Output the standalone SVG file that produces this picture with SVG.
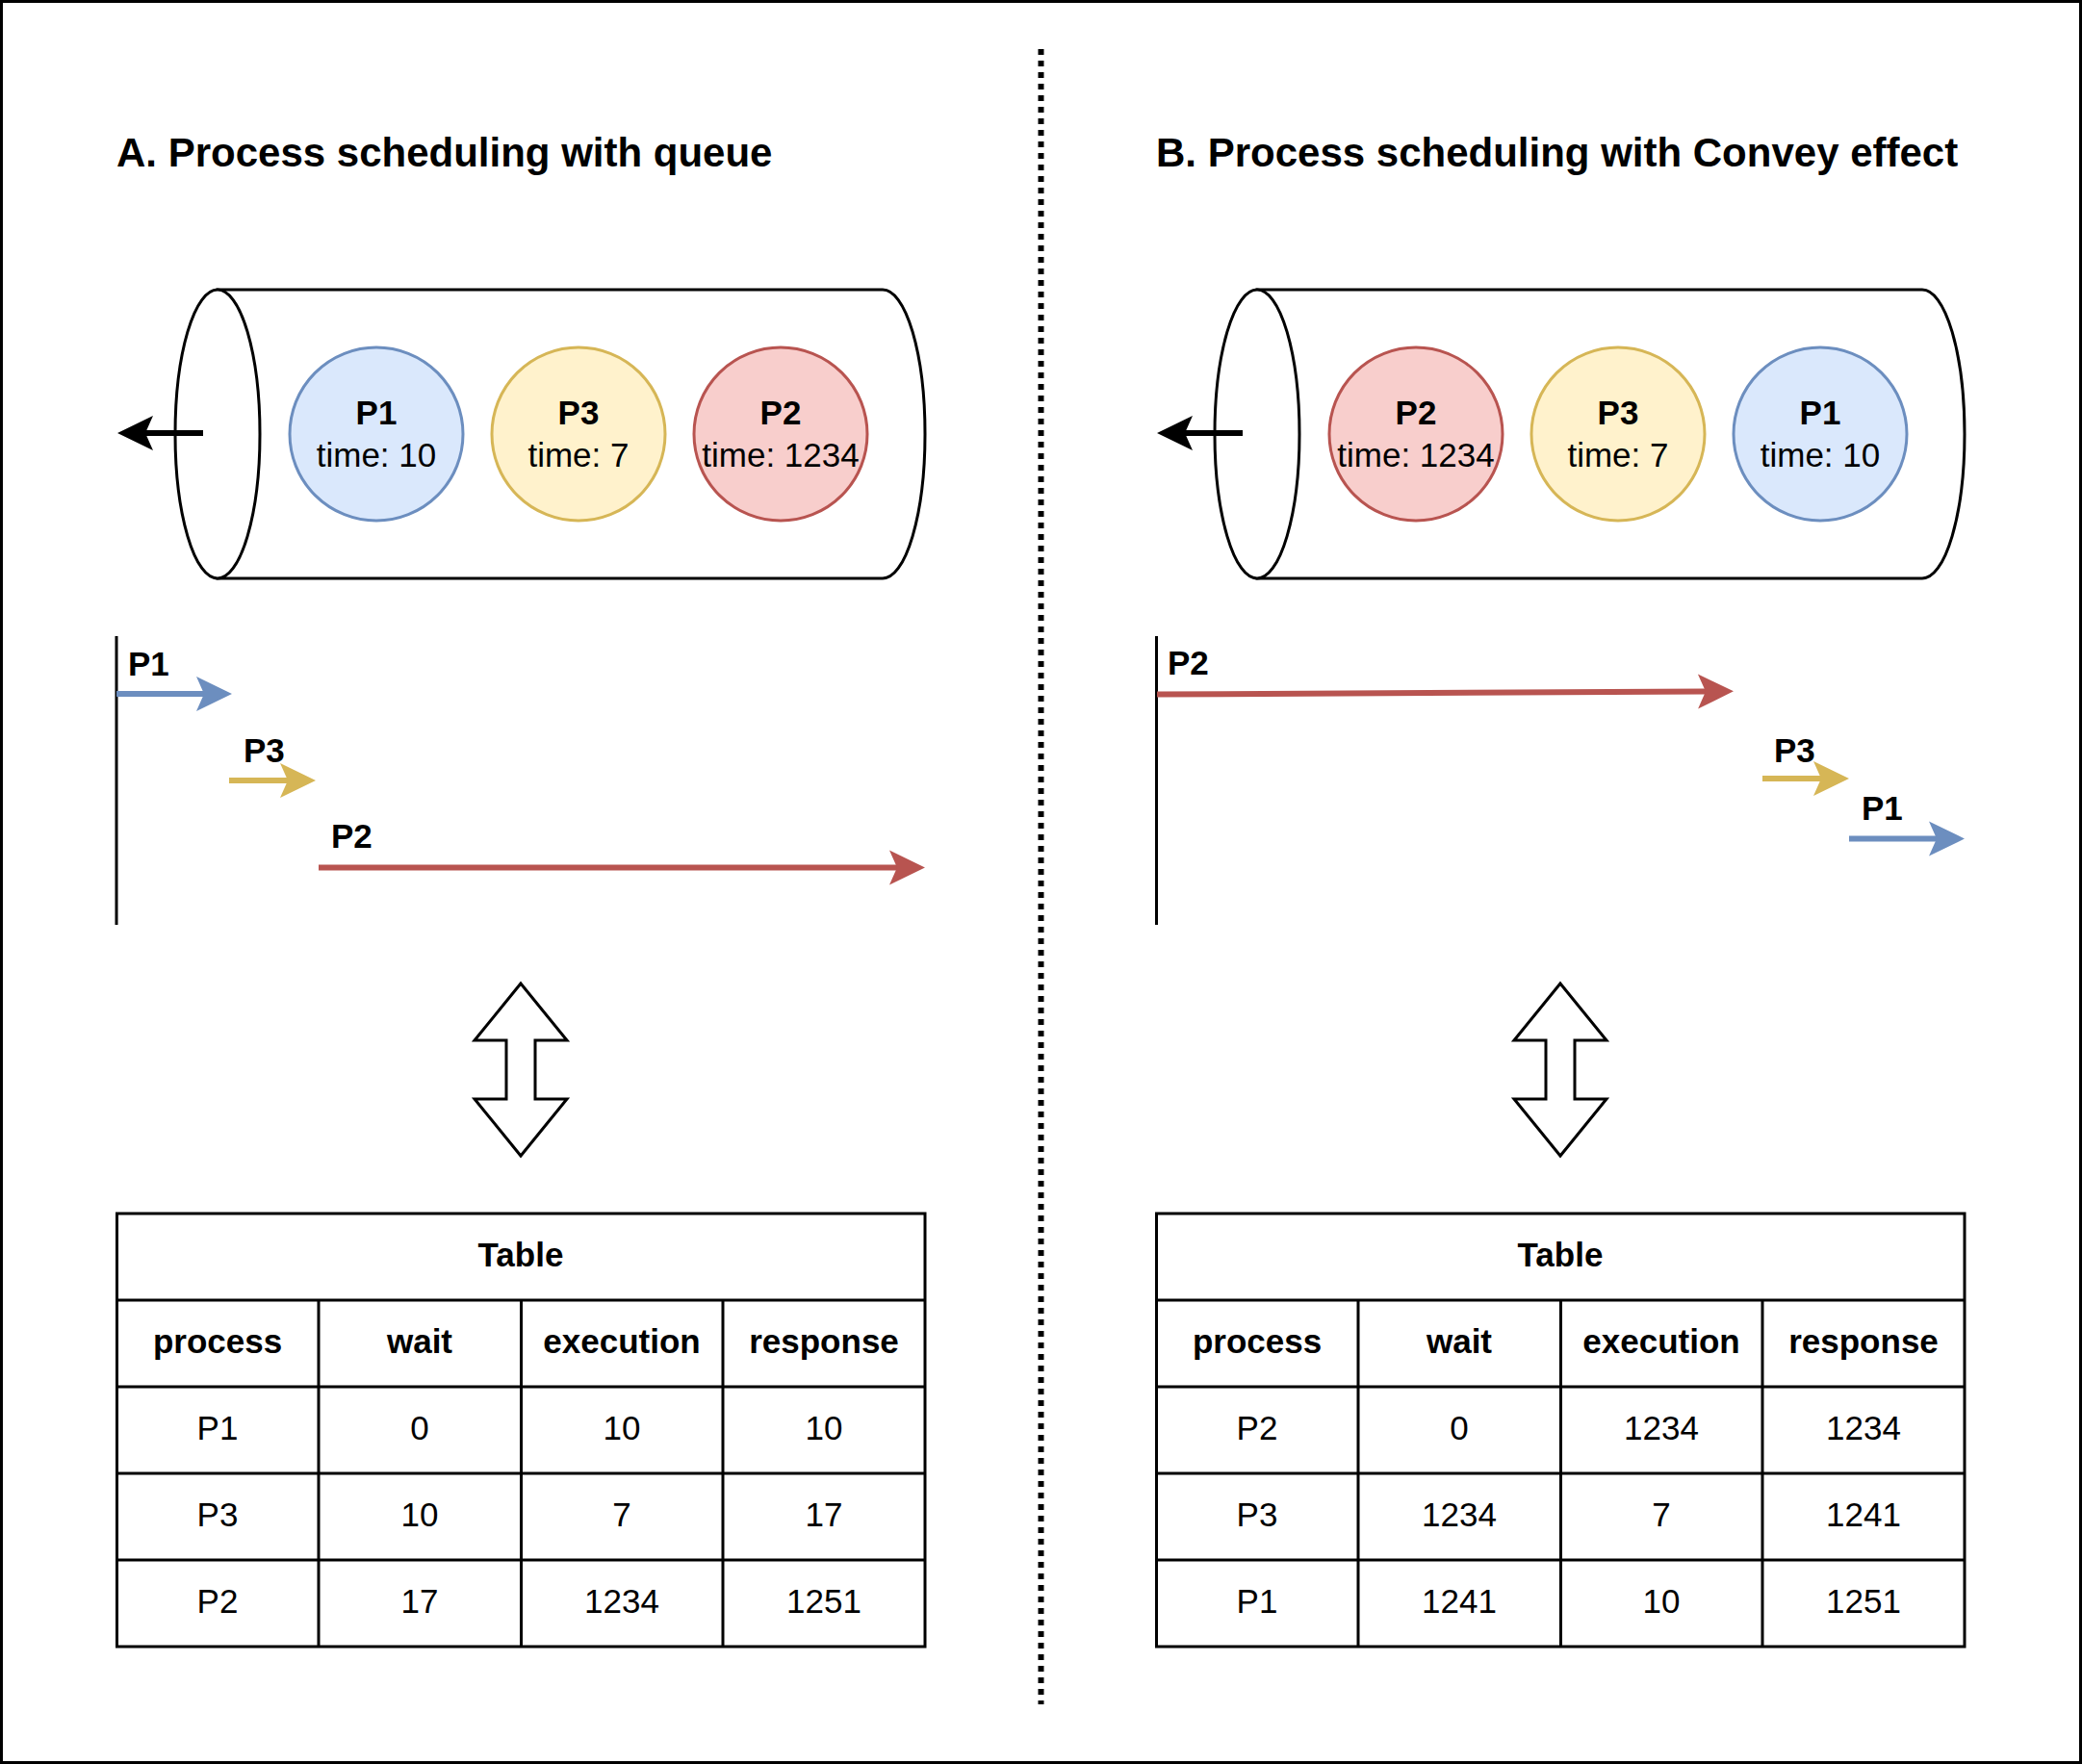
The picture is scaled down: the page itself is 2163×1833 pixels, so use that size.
<svg xmlns="http://www.w3.org/2000/svg" width="2163" height="1833" viewBox="0 0 2163 1833">
<style>
text{font-family:"Liberation Sans",Arial,Helvetica,sans-serif;fill:#000}
.title{font-size:42px;font-weight:bold}
.b{font-size:35px;font-weight:bold}
.r{font-size:35px}
.c{text-anchor:middle}
.cyl{fill:#fff;stroke:#000;stroke-width:3}
.blue{fill:#dae8fc;stroke:#6c8ebf;stroke-width:3}
.yel{fill:#fff2cc;stroke:#d6b656;stroke-width:3}
.red{fill:#f8cecc;stroke:#b85450;stroke-width:3}
.axis{stroke:#000;stroke-width:3;fill:none}
.tbl{fill:none;stroke:#000;stroke-width:3}
.dbl{fill:#fff;stroke:#000;stroke-width:3;stroke-linejoin:miter}
.ln{fill:none;stroke-width:6}
</style>
<defs>
<marker id="hk" viewBox="-10 -20 42 40" refX="0" refY="0" markerWidth="42" markerHeight="40" markerUnits="userSpaceOnUse" orient="auto"><path d="M-8,-18 L29,0 L-8,18 L0,0 Z" fill="#000"/></marker>
<marker id="hb" viewBox="-10 -20 42 40" refX="0" refY="0" markerWidth="42" markerHeight="40" markerUnits="userSpaceOnUse" orient="auto"><path d="M-8,-18 L29,0 L-8,18 L0,0 Z" fill="#6c8ebf"/></marker>
<marker id="hy" viewBox="-10 -20 42 40" refX="0" refY="0" markerWidth="42" markerHeight="40" markerUnits="userSpaceOnUse" orient="auto"><path d="M-8,-18 L29,0 L-8,18 L0,0 Z" fill="#d6b656"/></marker>
<marker id="hr" viewBox="-10 -20 42 40" refX="0" refY="0" markerWidth="42" markerHeight="40" markerUnits="userSpaceOnUse" orient="auto"><path d="M-8,-18 L29,0 L-8,18 L0,0 Z" fill="#b85450"/></marker>
</defs>
<rect x="0" y="0" width="2163" height="1833" fill="#fff"/>
<rect id="frame" x="1.5" y="1.5" width="2160" height="1830" fill="none" stroke="#000" stroke-width="3"/>
<line id="divider" x1="1081.5" y1="51" x2="1081.5" y2="1771" stroke="#000" stroke-width="6" stroke-dasharray="6 6"/>

<text id="titleA" class="title" x="121" y="173">A. Process scheduling with queue</text>
<text id="titleB" class="title" x="1201" y="173">B. Process scheduling with Convey effect</text>

<!-- Section A queue -->
<g id="queueA">
<path class="cyl" d="M226,301 L917,301 A44,150 0 0 1 917,601 L226,601 Z"/>
<ellipse class="cyl" cx="226" cy="451" rx="44" ry="150"/>
</g>
<g id="A-P1"><circle class="blue" cx="391" cy="451" r="90"/><text class="b c" x="391" y="441">P1</text><text class="r c" x="391" y="485">time: 10</text></g>
<g id="A-P3"><circle class="yel" cx="601" cy="451" r="90"/><text class="b c" x="601" y="441">P3</text><text class="r c" x="601" y="485">time: 7</text></g>
<g id="A-P2"><circle class="red" cx="811" cy="451" r="90"/><text class="b c" x="811" y="441">P2</text><text class="r c" x="811" y="485">time: 1234</text></g>

<!-- Section B queue -->
<g id="queueB">
<path class="cyl" d="M1306,301 L1997,301 A44,150 0 0 1 1997,601 L1306,601 Z"/>
<ellipse class="cyl" cx="1306" cy="451" rx="44" ry="150"/>
</g>
<g id="B-P2"><circle class="red" cx="1471" cy="451" r="90"/><text class="b c" x="1471" y="441">P2</text><text class="r c" x="1471" y="485">time: 1234</text></g>
<g id="B-P3"><circle class="yel" cx="1681" cy="451" r="90"/><text class="b c" x="1681" y="441">P3</text><text class="r c" x="1681" y="485">time: 7</text></g>
<g id="B-P1"><circle class="blue" cx="1891" cy="451" r="90"/><text class="b c" x="1891" y="441">P1</text><text class="r c" x="1891" y="485">time: 10</text></g>

<!-- timelines -->
<g id="timelineA">
<line class="axis" x1="121" y1="661" x2="121" y2="961"/>
<text class="b" x="133" y="702">P1</text>
<text class="b" x="253" y="792">P3</text>
<text class="b" x="344" y="881">P2</text>
</g>
<g id="timelineB">
<line class="axis" x1="1201.5" y1="661" x2="1201.5" y2="961"/>
<text class="b" x="1213" y="701">P2</text>
<text class="b" x="1843" y="792">P3</text>
<text class="b" x="1934" y="852">P1</text>
</g>

<g id="connectors">
<line class="ln" stroke="#000" x1="211" y1="450" x2="151" y2="450" marker-end="url(#hk)"/>
<line class="ln" stroke="#000" x1="1291" y1="450" x2="1231" y2="450" marker-end="url(#hk)"/>
<line class="ln" stroke="#6c8ebf" x1="121" y1="721" x2="212" y2="721" marker-end="url(#hb)"/>
<line class="ln" stroke="#d6b656" x1="238" y1="811" x2="299" y2="811" marker-end="url(#hy)"/>
<line class="ln" stroke="#b85450" x1="331" y1="901.5" x2="932" y2="901.5" marker-end="url(#hr)"/>
<line class="ln" stroke="#b85450" x1="1202" y1="721.5" x2="1772" y2="718.5" marker-end="url(#hr)"/>
<line class="ln" stroke="#d6b656" x1="1831" y1="809" x2="1892" y2="809" marker-end="url(#hy)"/>
<line class="ln" stroke="#6c8ebf" x1="1921" y1="871.5" x2="2012" y2="871.5" marker-end="url(#hb)"/>
</g>

<g id="dblA"><path class="dbl" d="M541,1022 L589,1081 L556,1081 L556,1142 L589,1142 L541,1201 L493,1142 L526,1142 L526,1081 L493,1081 Z"/></g>
<g id="dblB"><path class="dbl" d="M1621,1022 L1669,1081 L1636,1081 L1636,1142 L1669,1142 L1621,1201 L1573,1142 L1606,1142 L1606,1081 L1573,1081 Z"/></g>

<!-- Table A -->
<g id="tableA">
<rect class="tbl" x="121.5" y="1261" width="839.5" height="450"/>
<path class="tbl" d="M121.5,1351 H961 M121.5,1441 H961 M121.5,1531 H961 M121.5,1621 H961 M331,1351 V1711 M541.5,1351 V1711 M751,1351 V1711"/>
<text class="b c" x="541" y="1316">Table</text>
<text class="b c" x="226" y="1406">process</text>
<text class="b c" x="436" y="1406">wait</text>
<text class="b c" x="646" y="1406">execution</text>
<text class="b c" x="856" y="1406">response</text>
<text class="r c" x="226" y="1496">P1</text><text class="r c" x="436" y="1496">0</text><text class="r c" x="646" y="1496">10</text><text class="r c" x="856" y="1496">10</text>
<text class="r c" x="226" y="1586">P3</text><text class="r c" x="436" y="1586">10</text><text class="r c" x="646" y="1586">7</text><text class="r c" x="856" y="1586">17</text>
<text class="r c" x="226" y="1676">P2</text><text class="r c" x="436" y="1676">17</text><text class="r c" x="646" y="1676">1234</text><text class="r c" x="856" y="1676">1251</text>
</g>

<!-- Table B -->
<g id="tableB">
<rect class="tbl" x="1201.5" y="1261" width="839.5" height="450"/>
<path class="tbl" d="M1201.5,1351 H2041 M1201.5,1441 H2041 M1201.5,1531 H2041 M1201.5,1621 H2041 M1411,1351 V1711 M1621.5,1351 V1711 M1831,1351 V1711"/>
<text class="b c" x="1621" y="1316">Table</text>
<text class="b c" x="1306" y="1406">process</text>
<text class="b c" x="1516" y="1406">wait</text>
<text class="b c" x="1726" y="1406">execution</text>
<text class="b c" x="1936" y="1406">response</text>
<text class="r c" x="1306" y="1496">P2</text><text class="r c" x="1516" y="1496">0</text><text class="r c" x="1726" y="1496">1234</text><text class="r c" x="1936" y="1496">1234</text>
<text class="r c" x="1306" y="1586">P3</text><text class="r c" x="1516" y="1586">1234</text><text class="r c" x="1726" y="1586">7</text><text class="r c" x="1936" y="1586">1241</text>
<text class="r c" x="1306" y="1676">P1</text><text class="r c" x="1516" y="1676">1241</text><text class="r c" x="1726" y="1676">10</text><text class="r c" x="1936" y="1676">1251</text>
</g>
</svg>
